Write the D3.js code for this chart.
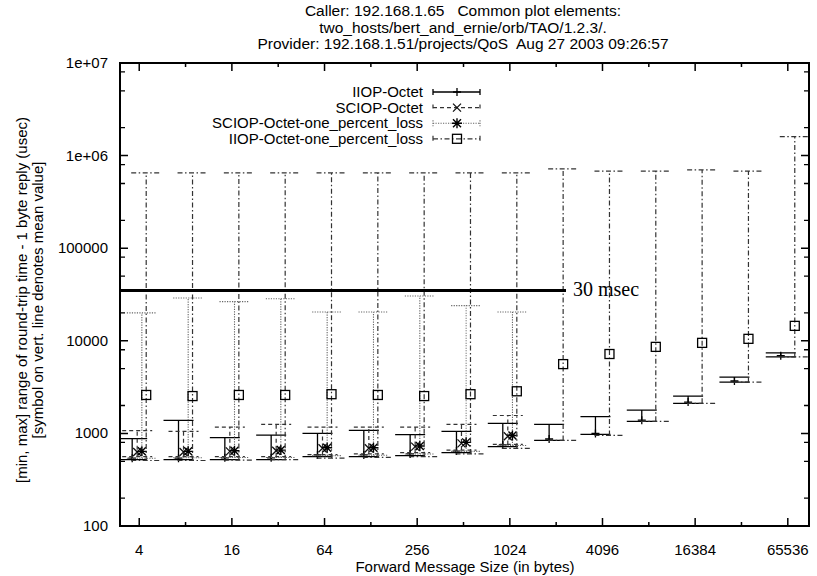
<!DOCTYPE html>
<html>
<head>
<meta charset="utf-8">
<script src="https://cdn.jsdelivr.net/npm/d3@7.9.0/dist/d3.min.js"></script>
<style>
  html, body { margin: 0; padding: 0; background: #fff; }
  svg { display: block; font-family: "Liberation Sans", Arial, sans-serif; }
</style>
</head>
<body>
<svg id="chart" width="817" height="576"></svg>
<script>
// message sizes (bytes)
const sizes = [4, 8, 16, 32, 64, 128, 256, 512, 1024, 2048, 4096, 8192, 16384, 32768, 65536];

// IIOP-Octet
const iiopMin  = [520, 520, 520, 520, 560, 560, 575, 620, 720, 840, 975, 1350, 2110, 3580, 6700];
const iiopMax  = [880, 1380, 900, 960, 1000, 1080, 970, 1050, 1280, 1250, 1520, 1780, 2530, 4050, 7400];
const iiopMean = [540, 540, 545, 545, 585, 585, 600, 645, 750, 870, 1000, 1390, 2180, 3680, 6900];

// SCIOP-Octet (only up to 1024)
const sciopMin  = [560, 560, 560, 560, 590, 600, 620, 660, 760];
const sciopMax  = [1070, 1050, 1170, 1250, 1170, 1170, 1170, 1250, 1560];
const sciopMean = [630, 630, 640, 650, 690, 690, 720, 780, 930];

// SCIOP-Octet-one_percent_loss (only up to 1024)
const sciopLossMin  = [540, 545, 550, 550, 575, 580, 600, 640, 740];
const sciopLossMax  = [20000, 29000, 26500, 28500, 20500, 20500, 30500, 24000, 20500];
const sciopLossMean = [640, 640, 650, 660, 700, 700, 730, 800, 950];

// IIOP-Octet-one_percent_loss
const iiopLossMin  = [510, 510, 515, 520, 540, 550, 560, 600, 690, 840, 950, 1350, 2110, 3580, 6700];
const iiopLossMax  = [650000, 650000, 650000, 650000, 650000, 650000, 650000, 650000, 650000, 720000, 680000, 680000, 700000, 680000, 1600000];
const iiopLossMean = [2600, 2530, 2600, 2600, 2650, 2600, 2530, 2650, 2850, 5600, 7200, 8600, 9500, 10500, 14500];

const xTicks = [4, 16, 64, 256, 1024, 4096, 16384, 65536];
const xMinorTicks = [8, 32, 128, 512, 2048, 8192, 32768];
const yTicks = [100, 1000, 10000, 100000, 1e6, 1e7];
const yTickLabels = ['100', '1000', '10000', '100000', '1e+06', '1e+07'];
const limitValue = 35000;
const limitLabel = '30 msec';

const titleLines = [
  'Caller: 192.168.1.65   Common plot elements:',
  'two_hosts/bert_and_ernie/orb/TAO/1.2.3/.',
  'Provider: 192.168.1.51/projects/QoS  Aug 27 2003 09:26:57',
];

const series = [
  { name: 'IIOP-Octet', min: iiopMin, max: iiopMax, mean: iiopMean, shift: 0.90, dash: null, color: '#000', width: 1.3, marker: 'plus' },
  { name: 'SCIOP-Octet', min: sciopMin, max: sciopMax, mean: sciopMean, shift: 0.97, dash: '4,3', color: '#333', width: 1.2, marker: 'cross' },
  { name: 'SCIOP-Octet-one_percent_loss', min: sciopLossMin, max: sciopLossMax, mean: sciopLossMean, shift: 1.04, dash: '1.2,1.3', color: '#666', width: 1.1, marker: 'star' },
  { name: 'IIOP-Octet-one_percent_loss', min: iiopLossMin, max: iiopLossMax, mean: iiopLossMean, shift: 1.11, dash: '5,2.5,1.5,2.5', color: '#333', width: 1.2, marker: 'square' },
];

const svg = d3.select('#chart');
const plot = { left: 120, right: 809, top: 63, bottom: 526 };

const xScale = d3.scaleLog().base(2).domain([3, 90000]).range([plot.left, plot.right]);
const yScale = d3.scaleLog().domain([100, 1e7]).range([plot.bottom, plot.top]);

// title
svg.append('g')
  .selectAll('text')
  .data(titleLines)
  .join('text')
  .attr('x', 463)
  .attr('y', (d, i) => 16 + i * 16.5)
  .attr('text-anchor', 'middle')
  .attr('font-size', 15.5)
  .style('white-space', 'pre')
  .text((d) => d);

// clip
svg.append('clipPath').attr('id', 'clip')
  .append('rect')
  .attr('x', plot.left).attr('y', plot.top)
  .attr('width', plot.right - plot.left).attr('height', plot.bottom - plot.top);

const capHalf = 15;

function drawMarker(g, type, x, y, color) {
  if (type === 'plus') {
    g.append('path').attr('d', `M${x - 4},${y}H${x + 4}M${x},${y - 4}V${y + 4}`)
      .attr('stroke', color).attr('stroke-width', 1.3).attr('fill', 'none');
  } else if (type === 'cross') {
    g.append('path').attr('d', `M${x - 4},${y - 4}L${x + 4},${y + 4}M${x - 4},${y + 4}L${x + 4},${y - 4}`)
      .attr('stroke', '#111').attr('stroke-width', 1.3).attr('fill', 'none');
  } else if (type === 'star') {
    g.append('path').attr('d', `M${x - 4},${y - 4}L${x + 4},${y + 4}M${x - 4},${y + 4}L${x + 4},${y - 4}M${x - 5},${y}H${x + 5}M${x},${y - 5}V${y + 5}`)
      .attr('stroke', '#000').attr('stroke-width', 1.4).attr('fill', 'none');
  } else if (type === 'square') {
    g.append('rect').attr('x', x - 4.5).attr('y', y - 4.5).attr('width', 9).attr('height', 9)
      .attr('stroke', '#000').attr('stroke-width', 1.3).attr('fill', 'none');
  }
}

const marks = svg.append('g').attr('clip-path', 'url(#clip)');

series.forEach((s) => {
  const g = marks.append('g').attr('class', 'series');
  s.min.forEach((lo, i) => {
    const x = xScale(sizes[i] * s.shift);
    const y0 = yScale(lo);
    const y1 = yScale(s.max[i]);
    g.append('path')
      .attr('d', `M${x},${y0}V${y1}M${x - capHalf},${y0}H${x + capHalf}M${x - capHalf},${y1}H${x + capHalf}`)
      .attr('stroke', s.color)
      .attr('stroke-width', s.width)
      .attr('stroke-dasharray', s.dash)
      .attr('fill', 'none');
    drawMarker(g, s.marker, x, yScale(s.mean[i]), s.color);
  });
});

// 30 msec line
svg.append('line')
  .attr('x1', plot.left).attr('x2', 566)
  .attr('y1', yScale(limitValue)).attr('y2', yScale(limitValue))
  .attr('stroke', '#000').attr('stroke-width', 3);
svg.append('text')
  .attr('x', 573).attr('y', yScale(limitValue) + 6)
  .attr('font-family', '"Liberation Serif", "Times New Roman", serif')
  .attr('font-size', 20)
  .text(limitLabel);

// axes ticks
const axes = svg.append('g').attr('stroke', '#000');
const yMinor = [];
yTicks.slice(0, -1).forEach((d) => { [2, 5, 8].forEach((m) => yMinor.push(d * m)); });

yTicks.forEach((d) => {
  const y = yScale(d);
  axes.append('path').attr('d', `M${plot.left},${y}h8M${plot.right},${y}h-8`).attr('stroke-width', 1.5);
});
yMinor.forEach((d) => {
  const y = yScale(d);
  axes.append('path').attr('d', `M${plot.left},${y}h5M${plot.right},${y}h-5`).attr('stroke-width', 1.3);
});
xTicks.forEach((d) => {
  const x = xScale(d);
  axes.append('path').attr('d', `M${x},${plot.bottom}v-8M${x},${plot.top}v8`).attr('stroke-width', 1.5);
});
xMinorTicks.forEach((d) => {
  const x = xScale(d);
  axes.append('path').attr('d', `M${x},${plot.bottom}v-4M${x},${plot.top}v4`).attr('stroke-width', 1.5);
});

// frame
svg.append('rect')
  .attr('x', plot.left).attr('y', plot.top)
  .attr('width', plot.right - plot.left).attr('height', plot.bottom - plot.top)
  .attr('fill', 'none').attr('stroke', '#000').attr('stroke-width', 2);

// tick labels
svg.append('g').selectAll('text')
  .data(yTicks)
  .join('text')
  .attr('x', 108)
  .attr('y', (d) => yScale(d) + 5)
  .attr('text-anchor', 'end')
  .attr('font-size', 15)
  .text((d, i) => yTickLabels[i]);

svg.append('g').selectAll('text')
  .data(xTicks)
  .join('text')
  .attr('x', (d) => xScale(d))
  .attr('y', 555)
  .attr('text-anchor', 'middle')
  .attr('font-size', 15)
  .text((d) => d);

svg.append('text')
  .attr('x', 465).attr('y', 572)
  .attr('text-anchor', 'middle')
  .attr('font-size', 15)
  .text('Forward Message Size (in bytes)');

// y axis title
const yTitle = svg.append('text')
  .attr('transform', 'translate(27,300) rotate(-90)')
  .attr('text-anchor', 'middle')
  .attr('font-size', 15);
yTitle.append('tspan').attr('x', 0).attr('dy', 0)
  .text('[min, max] range of round-trip time - 1 byte reply (usec)');
yTitle.append('tspan').attr('x', 0).attr('dy', 16)
  .text('[symbol on vert. line denotes mean value]');

// legend
const legend = svg.append('g');
series.forEach((s, i) => {
  const y = 92 + i * 15.6;
  legend.append('text')
    .attr('x', 423).attr('y', y + 5)
    .attr('text-anchor', 'end')
    .attr('font-size', 15)
    .text(s.name);
  legend.append('path')
    .attr('d', `M433,${y}H480M433,${y - 3}v6M480,${y - 3}v6`)
    .attr('stroke', s.color)
    .attr('stroke-width', s.width)
    .attr('stroke-dasharray', s.dash)
    .attr('fill', 'none');
  drawMarker(legend, s.marker, 457, y, s.color);
});
</script>
</body>
</html>
